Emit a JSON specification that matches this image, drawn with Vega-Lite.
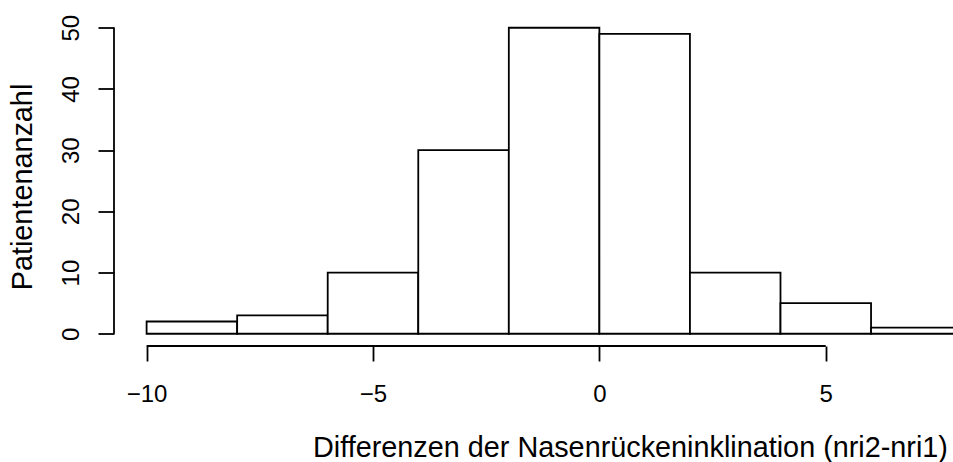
{
  "$schema": "https://vega.github.io/schema/vega-lite/v6.json",
  "width": 839,
  "height": 330.5,
  "autosize": {"type": "none"},
  "padding": {"left": 114, "top": 15.5, "right": 0, "bottom": 116},
  "background": "white",
  "config": {
    "view": {"stroke": null},
    "font": "Liberation Sans",
    "axis": {
      "grid": false,
      "domain": false,
      "tickColor": "black",
      "tickWidth": 1.8,
      "labelColor": "black",
      "labelFontSize": 24,
      "labelFont": "Liberation Sans",
      "labelOverlap": false,
      "labelBound": false,
      "labelFlush": false,
      "titleColor": "black",
      "titleFontSize": 28.8,
      "titleFont": "Liberation Sans",
      "titleFontWeight": "normal"
    }
  },
  "layer": [
    {
      "data": {
        "values": [
          {"bin_start": -10, "bin_end": -8, "count": 2},
          {"bin_start": -8, "bin_end": -6, "count": 3},
          {"bin_start": -6, "bin_end": -4, "count": 10},
          {"bin_start": -4, "bin_end": -2, "count": 30},
          {"bin_start": -2, "bin_end": 0, "count": 50},
          {"bin_start": 0, "bin_end": 2, "count": 49},
          {"bin_start": 2, "bin_end": 4, "count": 10},
          {"bin_start": 4, "bin_end": 6, "count": 5},
          {"bin_start": 6, "bin_end": 8, "count": 1}
        ]
      },
      "mark": {"type": "bar", "fill": "white", "stroke": "black", "strokeWidth": 1.8, "clip": true},
      "encoding": {
        "x": {
          "field": "bin_start",
          "type": "quantitative",
          "title": "Differenzen der Nasenrückeninklination (nri2-nri1)",
          "scale": {"domain": [-10.72, 7.81], "nice": false, "zero": false},
          "axis": {
            "values": [-10, -5, 0, 5],
            "tickSize": 15,
            "labelPadding": 40,
            "labelBaseline": "alphabetic",
            "labelAlign": "center",
            "titleX": 516,
            "titleY": 110,
            "titleAlign": "center",
            "titleBaseline": "alphabetic",
            "titleAnchor": null
          }
        },
        "x2": {"field": "bin_end"},
        "y": {
          "field": "count",
          "type": "quantitative",
          "title": "Patientenanzahl",
          "scale": {"domain": [-2, 52], "nice": false, "zero": false},
          "axis": {
            "values": [0, 10, 20, 30, 40, 50],
            "tickSize": 16,
            "labelAngle": -90,
            "labelAlign": "center",
            "labelBaseline": "alphabetic",
            "labelPadding": 20,
            "titleX": -83,
            "titleY": 171,
            "titleAngle": -90,
            "titleAlign": "center",
            "titleBaseline": "alphabetic"
          }
        },
        "y2": {"datum": 0}
      }
    },
    {
      "data": {"values": [{"xpos": -10.72, "ylo": 0, "yhi": 50}]},
      "mark": {"type": "rule", "stroke": "black", "strokeWidth": 1.8},
      "encoding": {
        "x": {"field": "xpos", "type": "quantitative", "title": "Differenzen der Nasenrückeninklination (nri2-nri1)"},
        "y": {"field": "ylo", "type": "quantitative", "title": "Patientenanzahl"},
        "y2": {"field": "yhi"}
      }
    },
    {
      "data": {"values": [{"xlo": -10, "xhi": 5, "ypos": -2}]},
      "mark": {"type": "rule", "stroke": "black", "strokeWidth": 1.8},
      "encoding": {
        "x": {"field": "xlo", "type": "quantitative", "title": "Differenzen der Nasenrückeninklination (nri2-nri1)"},
        "x2": {"field": "xhi"},
        "y": {"field": "ypos", "type": "quantitative", "title": "Patientenanzahl"}
      }
    }
  ]
}
